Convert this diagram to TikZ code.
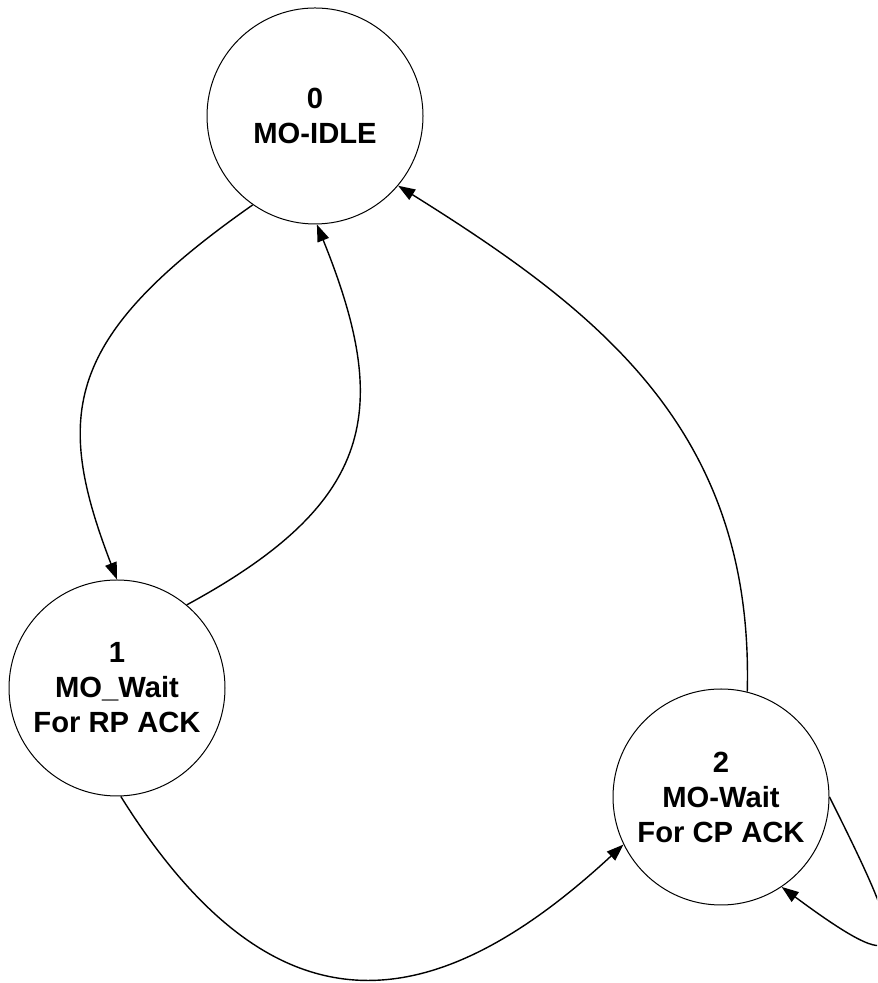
\documentclass[tikz,border=0pt]{standalone}
\usepackage{fontspec}
\setmainfont{Liberation Sans}
\usepackage{tikz}
\usetikzlibrary{arrows.meta}

\begin{document}
\begin{tikzpicture}[x=0.5pt, y=0.5pt,
          statenode/.style={draw, line width=0.5pt, shape=circle, minimum size=108pt, inner sep=0pt, align=center, font=\bfseries\fontsize{14.6}{17.5}\selectfont},
          transarrow/.style={-{Triangle[length=8.5pt, width=6pt]}, line width=0.7pt}
        ]
          \useasboundingbox (0,0) rectangle (877,983);
          \clip (0,0) rectangle (877,983);

          \node[statenode] (S0) at (315, 867) {0\\MO-IDLE};
          \node[statenode] (S1) at (117, 295) {1\\MO\_Wait\\For RP ACK};
          \node[statenode] (S2) at (721, 186) {2\\MO-Wait\\For CP ACK};

          \draw[transarrow] (S0.235) .. controls +(215:231) and +(111:177) .. (S1.north);
          \draw[transarrow] (S1.50) .. controls +(28.5:215) and +(292:200) .. (S0.271);
          \draw[transarrow] (S2.76) .. controls +(88.5:260) and +(328:239) .. (S0.320);
          \draw[transarrow] (S1.272) .. controls +(302:282) and +(222.8:268) .. (S2.206);
          \draw[transarrow] (S2.east) .. controls +(296.6:170) and +(323.4:170) .. (S2.304);
        \end{tikzpicture}
\end{document}
